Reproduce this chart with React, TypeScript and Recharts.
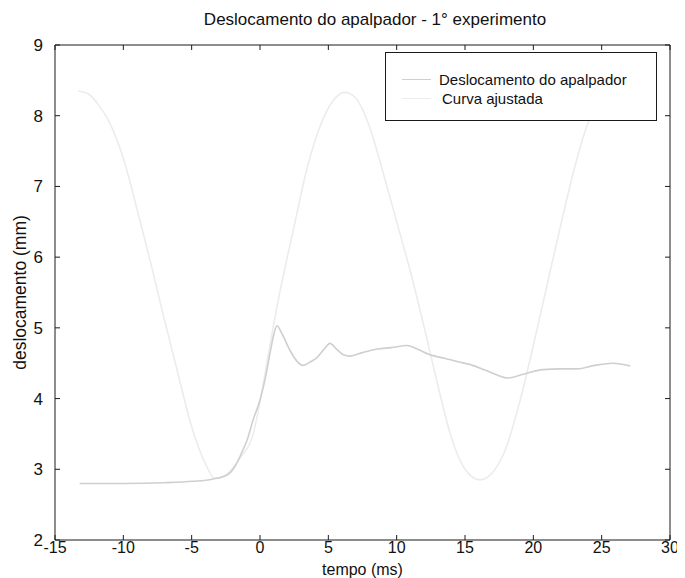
import React from 'react';
import { LineChart, Line, XAxis, YAxis, Legend, Label } from 'recharts';

// Measured probe displacement (tempo ms, deslocamento mm)
const measuredTime = [-13.2, -10, -7, -4.9, -3.5, -2.4, -1.8, -1.3, -0.95, -0.5, 0, 0.4, 0.73, 1.0, 1.24, 1.6, 2.2, 2.7, 3.15, 3.7, 4.17, 4.7, 5.12, 5.6, 6.1, 6.58, 7.5, 8.6, 9.6, 10.76, 11.5, 12.44, 13.5, 14.5, 15.4, 16.5, 17.4, 18.1, 19.2, 20.7, 22, 23.2, 24.5, 25.8, 27.1];
const measuredDisp = [2.8, 2.8, 2.81, 2.83, 2.86, 2.92, 3.05, 3.25, 3.41, 3.7, 3.98, 4.3, 4.64, 4.9, 5.03, 4.92, 4.68, 4.53, 4.47, 4.52, 4.58, 4.7, 4.78, 4.7, 4.62, 4.6, 4.65, 4.7, 4.72, 4.75, 4.7, 4.62, 4.57, 4.52, 4.48, 4.4, 4.33, 4.29, 4.34, 4.41, 4.42, 4.42, 4.47, 4.5, 4.46];

// Fitted curve
const fittedTime = [-13.3, -12.5, -11.8, -11, -10, -9, -8, -7, -6, -5, -4, -3.3, -2.5, -1.5, -0.5, 0, 0.5, 1, 1.5, 2.4, 3.5, 4.5, 5.3, 6.2, 7, 8, 9, 10, 11, 12, 13, 14, 15, 16.1, 17, 18, 19, 20, 21, 22, 23, 24, 25, 25.8, 26.6];
const fittedDisp = [8.35, 8.3, 8.15, 7.9, 7.4, 6.68, 5.92, 5.12, 4.35, 3.6, 3.08, 2.87, 2.92, 3.15, 3.5, 3.95, 4.5, 5.05, 5.55, 6.35, 7.3, 7.9, 8.2, 8.33, 8.25, 7.85, 7.2, 6.5, 5.8, 5.02, 4.2, 3.45, 3.0, 2.85, 2.95, 3.3, 3.95, 4.75, 5.6, 6.45, 7.25, 7.9, 8.25, 8.35, 8.3];

const xTicks = [-15, -10, -5, 0, 5, 10, 15, 20, 25, 30];
const yTicks = [2, 3, 4, 5, 6, 7, 8, 9];

const seriesNames = ['Deslocamento do apalpador', 'Curva ajustada'];
const seriesColors = ['#cfcfcf', '#ececec'];
const chartTitle = 'Deslocamento do apalpador - 1° experimento';

const measuredData = measuredTime.map((t, i) => ({ t, v: measuredDisp[i] }));
const fittedData = fittedTime.map((t, i) => ({ t, v: fittedDisp[i] }));

const FONT = '"Liberation Sans", Arial, Helvetica, sans-serif';
const AXIS = '#1a1a1a';

const LegendBox = () => (
  <div
    style={{
      border: '1.5px solid #1a1a1a',
      background: '#fff',
      width: 272,
      height: 69,
      boxSizing: 'border-box',
      paddingTop: 17,
      fontFamily: FONT,
      fontSize: 15,
      color: '#111',
    }}
  >
    {seriesNames.map((n, i) => (
      <div key={n} style={{ display: 'flex', alignItems: 'center', height: 19 }}>
        <div style={{ marginLeft: 16, width: 29, height: 0, borderTop: `1.5px solid ${seriesColors[i]}` }} />
        <span style={{ marginLeft: i === 0 ? 8 : 11 }}>{n}</span>
      </div>
    ))}
  </div>
);

export default function App() {
  return (
    <div style={{ width: 677, height: 576, marginTop: -6 }}>
      <LineChart width={677} height={576} margin={{ top: 42, right: 14, bottom: 0, left: 0 }}>
        <XAxis
          xAxisId="b"
          type="number"
          dataKey="t"
          domain={[-15, 30]}
          ticks={xTicks}
          allowDataOverflow
          height={38}
          stroke={AXIS}
          tickSize={-5}
          tickMargin={7}
          tick={{ fill: '#111', fontSize: 16, fontFamily: FONT }}
        >
          <Label
            content={(p: any) => {
              const vb = p.viewBox;
              return (
                <text x={vb.x + vb.width / 2} y={vb.y + 29} textAnchor="middle" dominantBaseline="central" fontSize={16} fontFamily={FONT} fill="#111">
                  tempo (ms)
                </text>
              );
            }}
          />
        </XAxis>
        <XAxis
          xAxisId="t"
          orientation="top"
          type="number"
          dataKey="t"
          domain={[-15, 30]}
          ticks={xTicks}
          allowDataOverflow
          height={1}
          stroke={AXIS}
          tickSize={-5}
          tick={() => <g />}
        />
        <YAxis
          yAxisId="l"
          type="number"
          domain={[2, 9]}
          ticks={yTicks}
          allowDataOverflow
          width={47}
          stroke={AXIS}
          tickSize={-5}
          tickMargin={17}
          tick={{ fill: '#111', fontSize: 17, fontFamily: FONT }}
        >
          <Label
            content={(p: any) => {
              const vb = p.viewBox;
              const cx = 12;
              const cy = vb.y + vb.height / 2;
              return (
                <text x={cx} y={cy} transform={`rotate(-90 ${cx} ${cy})`} textAnchor="middle" dominantBaseline="central" fontSize={17.5} fontFamily={FONT} fill="#111">
                  deslocamento (mm)
                </text>
              );
            }}
          />
          <Label
            content={(p: any) => {
              const vb = p.viewBox;
              return (
                <text x={367} y={vb.y - 26} textAnchor="middle" dominantBaseline="central" fontSize={17} fontFamily={FONT} fill="#111">
                  {chartTitle}
                </text>
              );
            }}
          />
        </YAxis>
        <YAxis
          yAxisId="r"
          orientation="right"
          type="number"
          domain={[2, 9]}
          ticks={yTicks}
          allowDataOverflow
          width={1}
          stroke={AXIS}
          tickSize={-5}
          tick={() => <g />}
        />
        <Line
          xAxisId="b"
          yAxisId="l"
          data={fittedData}
          dataKey="v"
          name={seriesNames[1]}
          type="monotone"
          stroke={seriesColors[1]}
          strokeWidth={1.6}
          dot={false}
          isAnimationActive={false}
        />
        <Line
          xAxisId="b"
          yAxisId="l"
          data={measuredData}
          dataKey="v"
          name={seriesNames[0]}
          type="monotone"
          stroke={seriesColors[0]}
          strokeWidth={1.6}
          dot={false}
          isAnimationActive={false}
        />
        <Legend
          layout="vertical"
          align="center"
          verticalAlign="middle"
          wrapperStyle={{ position: 'absolute', left: 377, top: 50, width: 273, height: 70 }}
          content={() => <LegendBox />}
        />
      </LineChart>
    </div>
  );
}
